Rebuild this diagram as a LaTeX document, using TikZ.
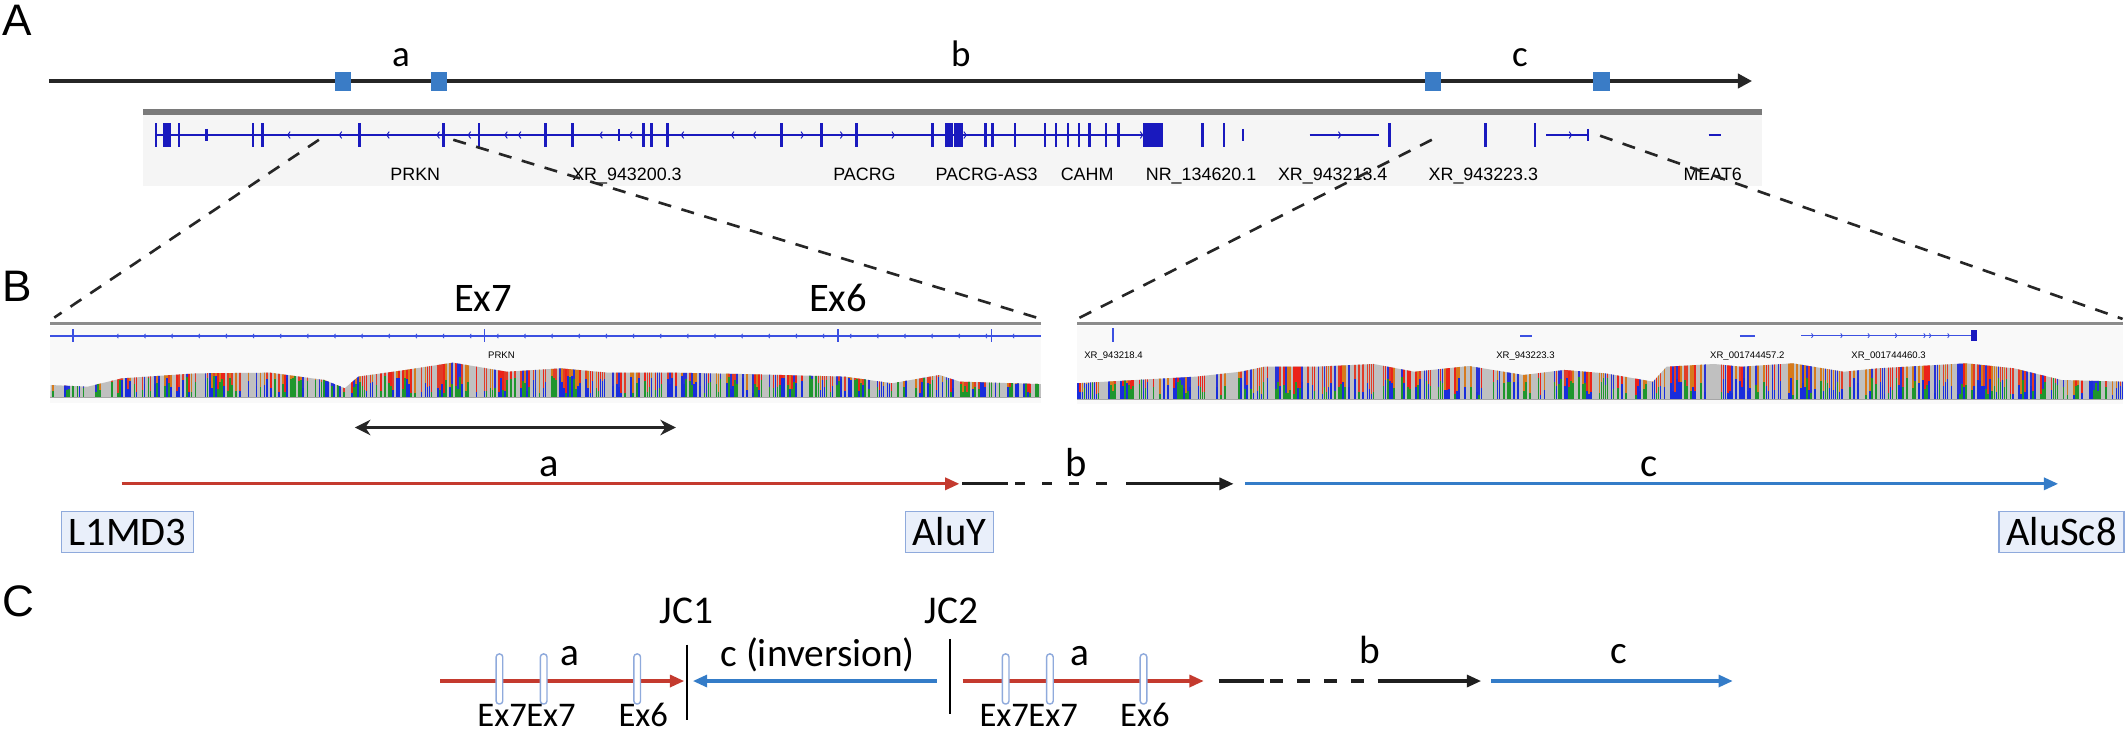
\documentclass[tikz,border=0pt]{standalone}
\usepackage{fontspec}
\setmainfont{Carlito}
\newfontfamily\arialfont{Liberation Sans}
\usetikzlibrary{arrows.meta}

\definecolor{segred}{RGB}{196,58,46}
\definecolor{segblue}{RGB}{52,124,200}
\definecolor{markblue}{RGB}{58,124,198}
\definecolor{boxfill}{RGB}{233,239,250}
\definecolor{boxline}{RGB}{143,170,220}
\definecolor{igvblue}{RGB}{25,25,190}
\definecolor{igvlight}{RGB}{60,80,225}
\definecolor{covgray}{RGB}{192,192,192}
\definecolor{cov1}{RGB}{235,35,25}
\definecolor{cov2}{RGB}{214,122,28}
\definecolor{cov3}{RGB}{40,50,215}
\definecolor{cov4}{RGB}{225,60,40}
\definecolor{covlow1}{RGB}{25,45,220}
\definecolor{covlow2}{RGB}{30,150,45}

\begin{document}
\begin{tikzpicture}[x=0.2mm,y=-0.2mm,>={Triangle[length=6pt,width=5pt]},
  panel/.style={font=\arialfont\fontsize{18.5}{20}\selectfont,inner sep=0pt},
  lbl/.style={font=\fontsize{15.5}{17}\selectfont,inner sep=0pt,anchor=base},
  lblB/.style={lbl,font=\fontsize{17}{19}\selectfont},
  lblC/.style={lbl,font=\fontsize{16.5}{18}\selectfont},
  exlbl/.style={lbl,font=\fontsize{14.5}{16}\selectfont},
  genelbl/.style={font=\arialfont\fontsize{7.5}{8}\selectfont,inner sep=0pt,anchor=base},
  tinylbl/.style={font=\arialfont\fontsize{4}{5}\selectfont,inner sep=0pt,anchor=base},
  sqr/.style={fill=markblue,minimum width=6.8pt,minimum height=7.9pt,inner sep=0pt},
  repbox/.style={draw=boxline,fill=boxfill,line width=0.6pt,font=\fontsize{17}{19}\selectfont,
    inner xsep=3pt,inner ysep=0pt,minimum height=17pt},
  exmark/.style={draw=boxline,fill=white,line width=0.6pt,rounded corners=1.3pt,
    minimum width=2.8pt,minimum height=21pt,inner sep=0pt},
  seg/.style={->,line width=1.4pt},
  zoomline/.style={black!85,line width=1.1pt,dash pattern=on 5.5pt off 4.5pt},
  igv/.style={igvblue,line width=0.5pt},
  igvtick/.style={igvblue,line width=1.1pt},
  igvthick/.style={igvblue,line width=2.2pt},
  igvthin/.style={igvblue,line width=0.4pt},
  igvb/.style={igvlight,line width=0.5pt},
  covbar/.style={line width=0.7pt},
  jcbar/.style={line width=0.8pt}]

  \useasboundingbox (0,0) rectangle (1568,541.7);

  % ---------------- A ----------------
  \node[panel] (pA) at (13,15) {A};

  \coordinate (ax0) at (36,59.7);
  \coordinate (ax1) at (1291,59.7);
  \draw[-{Triangle[length=6pt,width=6pt]},line width=1.7pt,black!85] (ax0) -- (ax1);
  \node[sqr] (s1) at (253,60) {};
  \node[sqr] (s2) at (323.5,60) {};
  \node[sqr] (s3) at (1056,60) {};
  \node[sqr] (s4) at (1180,60) {};
  \node[lbl] (la) at (295.5,49) {a};
  \node[lbl] (lb) at (708,49) {b};
  \node[lbl] (lc) at (1120,49) {c};

  % gene track
  \fill[gray!8] (105,85) rectangle (1298,137);
  \fill[black!52] (105,80) rectangle (1298,85);
  \draw[igv] (115,99.5) -- (856,99.5);
  \draw[igv] (965,99.5) -- (1016,99.5);
  \draw[igv] (1139.5,99.5) -- (1170,99.5);
  \draw[igvtick] (1259,99.5) -- (1268,99.5);
  \foreach \x in {115,132,186.5,193.5,265,327,353,402,422,474,480,492,576,605.5,631,687,
                  726,731.5,748,770,778,787,795,803,815,824,886,902,1024,1094.4,1131}
    \draw[igvtick] (\x,91) -- (\x,108);
  \foreach \x in {152,456,916,1170}
    \draw[igvtick] (\x,95) -- (\x,104);
  \foreach \x in {122,124,698,700.5,705,707.5,844.5,848.5,852.5,855}
    \draw[igvthick] (\x,91) -- (\x,108);
  \foreach \x in {212,250,285,322,345,372,382,442,464,502,539,555}
    \draw[igvthin] (\x+1.8,97) -- (\x,99.5) -- (\x+1.8,102);
  \foreach \x in {592,621,659,712,842,988,1158}
    \draw[igvthin] (\x-1.8,97) -- (\x,99.5) -- (\x-1.8,102);

  \node[genelbl] (g1) at (306,133) {PRKN};
  \node[genelbl] (g2) at (462,133) {XR\_943200.3};
  \node[genelbl] (g3) at (637,133) {PACRG};
  \node[genelbl] (g4) at (727,133) {PACRG-AS3};
  \node[genelbl] (g5) at (801,133) {CAHM};
  \node[genelbl] (g6) at (885,133) {NR\_134620.1};
  \node[genelbl] (g7) at (982,133) {XR\_943213.4};
  \node[genelbl] (g8) at (1093,133) {XR\_943223.3};
  \node[genelbl] (g9) at (1262,133) {MEAT6};

  % zoom lines
  \coordinate (z1a) at (235,103);
  \coordinate (z1b) at (40,234);
  \coordinate (z2a) at (334,103);
  \coordinate (z2b) at (767,235);
  \coordinate (z3a) at (1055,103);
  \coordinate (z3b) at (793.7,235);
  \coordinate (z4a) at (1179,100);
  \coordinate (z4b) at (1564,235);
  \draw[zoomline] (z1a) -- (z1b);
  \draw[zoomline] (z2a) -- (z2b);
  \draw[zoomline] (z3a) -- (z3b);
  \draw[zoomline] (z4a) -- (z4b);

  % ---------------- B ----------------
  \node[panel] (pB) at (13,211) {B};
  \node[lblB] (e7) at (356,229.6) {Ex7};
  \node[lblB] (e6) at (617.5,229.6) {Ex6};

  % left window
  \fill[gray!5] (37,240) rectangle (767,297);
  \fill[black!45] (37,237.6) rectangle (767,239.8);
  \draw[igvb] (37,247.6) -- (767,247.6);
  \foreach \x in {53.8,357,617.5,730.6}
    \draw[igvlight,line width=0.8pt] (\x,242.7) -- (\x,251.7);
  \foreach \x in {86,106,...,746}
    \draw[igvlight,line width=0.35pt] (\x+1.2,246) -- (\x,247.6) -- (\x+1.2,249.2);
  \node[tinylbl] (t0) at (369.5,264) {PRKN};
  \pgfmathsetseed{7}
  \begin{scope}
    \clip (37,292.8) -- (37.4,283.7) -- (64.7,284.9) -- (89.6,278.8) -- (144.4,275.1)
      -- (199.2,274.6) -- (239,280) -- (254,286.1) -- (264,277.5) -- (298.8,272.6)
      -- (333.7,267.2) -- (373.5,273.9) -- (413.3,271.4) -- (448.2,274.6) -- (498,274.6)
      -- (547.8,275.6) -- (622.5,277.5) -- (657.4,282.4) -- (692.2,276.3) -- (707.2,281.2)
      -- (767,283) -- (767,292.8) -- cycle;
    \fill[covgray] (30,260) rectangle (770,293);
    \foreach \x in {37.5,39,...,767} {
      \pgfmathsetmacro\p{rnd}
      \ifdim\p pt<0.6pt
        \pgfmathsetmacro\t{int(random(1,4))}
        \draw[covbar,cov\t] (\x,292.8) -- ++(0,-30);
        \pgfmathsetmacro\s{int(random(1,2))}
        \pgfmathsetmacro\h{3+13*rnd}
        \draw[covbar,covlow\s] (\x,292.8) -- ++(0,-\h);
      \fi
    }
  \end{scope}
  \draw[gray!70,line width=0.4pt] (37,292.8) -- (767,292.8);

  % right window
  \fill[gray!5] (793.7,240) rectangle (1564.3,298);
  \fill[black!45] (793.7,237.2) rectangle (1564.3,239.4);
  \draw[igvlight,line width=0.8pt] (820.4,242) -- (820.4,251.7);
  \draw[igvlight,line width=0.8pt] (1120,247.3) -- (1128.6,247.3);
  \draw[igvlight,line width=0.8pt] (1282,247.3) -- (1293,247.3);
  \draw[igvb] (1327.4,247.3) -- (1454,247.3);
  \foreach \x in {1336,1357.5,1377.6,1397.7,1418.7,1422.8,1436.3}
    \draw[igvlight,line width=0.35pt] (\x-1.2,245.7) -- (\x,247.3) -- (\x-1.2,248.9);
  \fill[igvblue] (1452.4,243.5) rectangle (1456.4,251);
  \node[tinylbl] (t1) at (820.5,264) {XR\_943218.4};
  \node[tinylbl] (t2) at (1124,264) {XR\_943223.3};
  \node[tinylbl] (t3) at (1287.5,264) {XR\_001744457.2};
  \node[tinylbl] (t4) at (1391.6,264) {XR\_001744460.3};
  \begin{scope}
    \clip (793.7,294) -- (793.7,282.4) -- (881.6,277.5) -- (914.2,273.9) -- (931.8,270.2)
      -- (969.4,270.2) -- (1012.1,268.2) -- (1042.2,273.9) -- (1082.4,269.7) -- (1122.6,276.3)
      -- (1152.7,272.6) -- (1182.8,275.1) -- (1218,281.2) -- (1228,270.2) -- (1263,268.2)
      -- (1283.2,270.2) -- (1320.9,267.7) -- (1358.5,273.9) -- (1383.6,271.4) -- (1448.9,267.7)
      -- (1484,271.4) -- (1519.1,280) -- (1564.3,281.2) -- (1564.3,294) -- cycle;
    \fill[covgray] (790,260) rectangle (1570,294);
    \foreach \x in {794.5,796,...,1564} {
      \pgfmathsetmacro\p{rnd}
      \ifdim\p pt<0.6pt
        \pgfmathsetmacro\t{int(random(1,4))}
        \draw[covbar,cov\t] (\x,294) -- ++(0,-30);
        \pgfmathsetmacro\s{int(random(1,2))}
        \pgfmathsetmacro\h{3+13*rnd}
        \draw[covbar,covlow\s] (\x,294) -- ++(0,-\h);
      \fi
    }
  \end{scope}
  \draw[gray!70,line width=0.4pt] (793.7,294) -- (1564.3,294);

  % deletion span
  \coordinate (da1) at (261.5,315);
  \coordinate (da2) at (498,315);
  \draw[{Stealth[length=6.5pt,width=6.5pt]}-{Stealth[length=6.5pt,width=6.5pt]},
        line width=1.6pt,black!85] (da1) -- (da2);

  % segments a, b, c
  \coordinate (ra0) at (89.6,356.5);
  \coordinate (ra1) at (707,356.5);
  \coordinate (bb0) at (709,356.5);
  \coordinate (bb1) at (743,356.5);
  \coordinate (bb2) at (748,356.5);
  \coordinate (bb3) at (816,356.5);
  \coordinate (bb4) at (830,356.5);
  \coordinate (bb5) at (909,356.5);
  \coordinate (ca0) at (917.6,356.5);
  \coordinate (ca1) at (1516.6,356.5);
  \draw[seg,segred] (ra0) -- (ra1);
  \draw[line width=1.4pt,black!88] (bb0) -- (bb1);
  \draw[line width=1.4pt,black!88,dash pattern=on 4.25pt off 7.1pt] (bb2) -- (bb3);
  \draw[seg,black!88] (bb4) -- (bb5);
  \draw[seg,segblue] (ca0) -- (ca1);
  \node[lblB] (sa) at (405,351.3) {a};
  \node[lblB] (sb) at (793,351.3) {b};
  \node[lblB] (sc) at (1215,351.3) {c};

  \node[repbox] (r1) at (94,392) {L1MD3};
  \node[repbox] (r2) at (699.5,392) {AluY};
  \node[repbox] (r3) at (1519,392) {AluSc8};

  % ---------------- C ----------------
  \node[panel] (pC) at (13.5,443) {C};

  \coordinate (c1a) at (324.4,501.8);
  \coordinate (c1b) at (504.2,501.8);
  \coordinate (c2a) at (690.3,501.8);
  \coordinate (c2b) at (510.5,501.8);
  \coordinate (c3a) at (709.3,501.8);
  \coordinate (c3b) at (887,501.8);
  \coordinate (c4a) at (898,501.8);
  \coordinate (c4b) at (931.6,501.8);
  \coordinate (c4c) at (936,501.8);
  \coordinate (c4d) at (1005.4,501.8);
  \coordinate (c4e) at (1015,501.8);
  \coordinate (c4f) at (1091.4,501.8);
  \coordinate (c5a) at (1098.7,501.8);
  \coordinate (c5b) at (1276.8,501.8);
  \draw[seg,segred] (c1a) -- (c1b);
  \draw[seg,segblue] (c2a) -- (c2b);
  \draw[seg,segred] (c3a) -- (c3b);
  \draw[line width=1.4pt,black!88] (c4a) -- (c4b);
  \draw[line width=1.4pt,black!88,dash pattern=on 5.3pt off 6pt] (c4c) -- (c4d);
  \draw[seg,black!88] (c4e) -- (c4f);
  \draw[seg,segblue] (c5a) -- (c5b);

  \coordinate (j1a) at (506.3,475);
  \coordinate (j1b) at (506.3,530.5);
  \coordinate (j2a) at (700,470.8);
  \coordinate (j2b) at (700,526);
  \draw[jcbar] (j1a) -- (j1b);
  \draw[jcbar] (j2a) -- (j2b);
  \node[lblC] (jc1) at (506,459.3) {JC1};
  \node[lblC] (jc2) at (701,459.3) {JC2};
  \node[lblC] (inv) at (602.5,491) {c (inversion)};

  \foreach \x/\n in {368/m1,400.6/m2,469.5/m3,741/m4,773.6/m5,842.6/m6}
    \node[exmark] (\n) at (\x,500.3) {};
  \node[lblC] (ca) at (420,490) {a};
  \node[lblC] (cb) at (796,490) {a};
  \node[lblC] (cc) at (1009,488.8) {b};
  \node[lblC] (cd) at (1193,488.8) {c};
  \node[exlbl] (x1) at (370,535.4) {Ex7};
  \node[exlbl] (x2) at (406,535.4) {Ex7};
  \node[exlbl] (x3) at (474,535.4) {Ex6};
  \node[exlbl] (x4) at (740,535.4) {Ex7};
  \node[exlbl] (x5) at (776,535.4) {Ex7};
  \node[exlbl] (x6) at (843.6,535.4) {Ex6};
\end{tikzpicture}
\end{document}
